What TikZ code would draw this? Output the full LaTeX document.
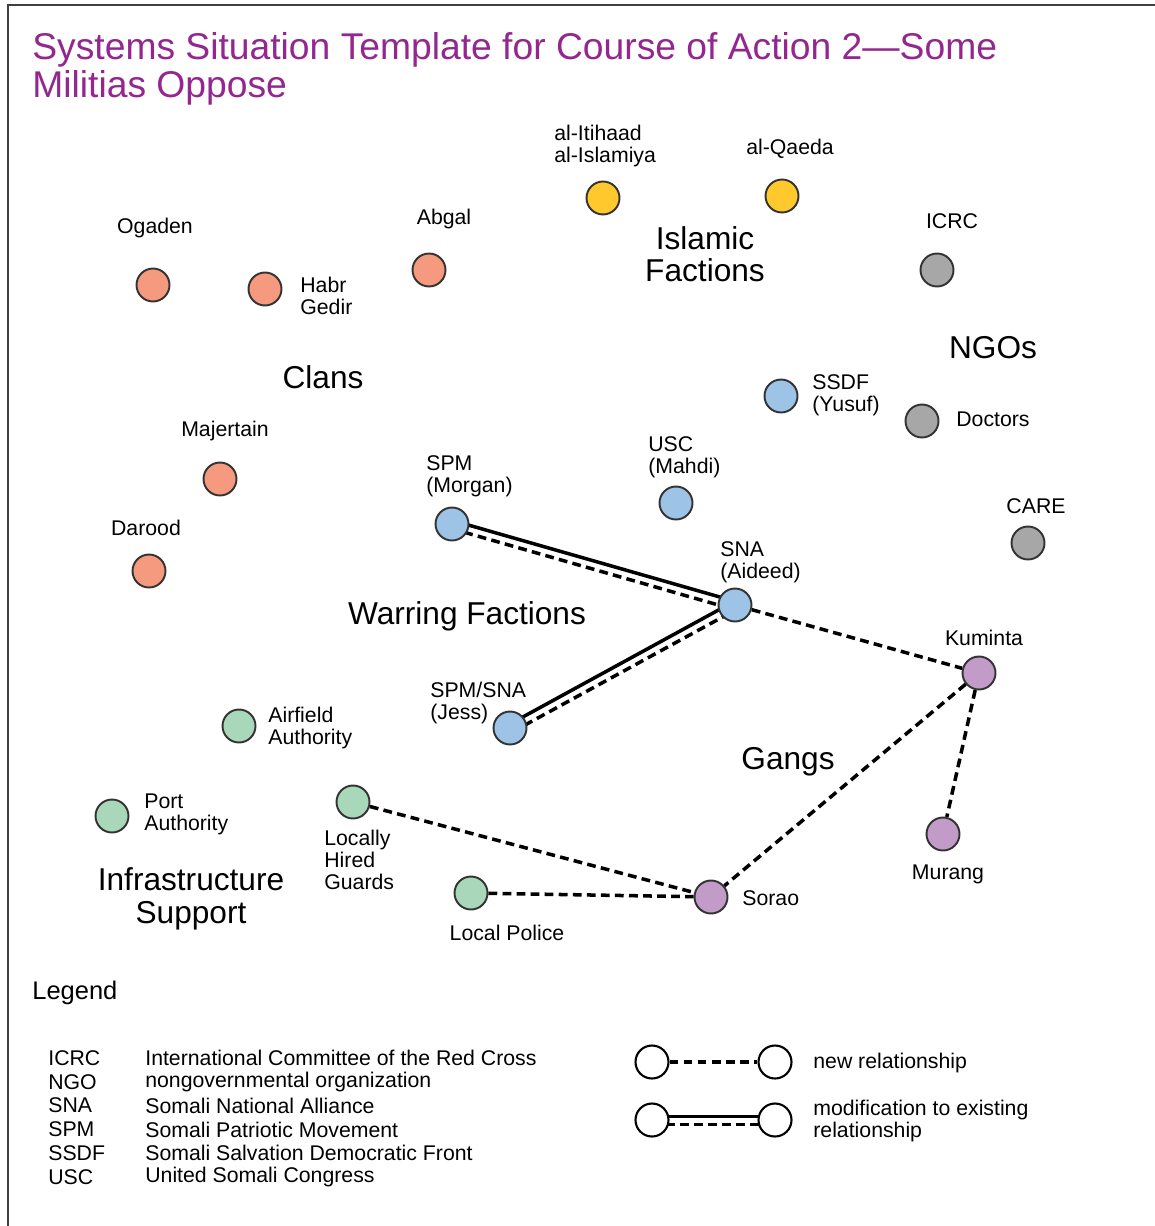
\documentclass[tikz,border=0pt]{standalone}
\usepackage{fontspec}
\setmainfont{Liberation Sans}
\usetikzlibrary{calc,backgrounds}

\definecolor{titlepurple}{RGB}{147,39,143}
\definecolor{edgegray}{RGB}{51,51,51}
\definecolor{clanred}{RGB}{245,154,126}
\definecolor{islamgold}{RGB}{255,200,45}
\definecolor{ngogray}{RGB}{167,167,167}
\definecolor{factionblue}{RGB}{157,195,230}
\definecolor{infragreen}{RGB}{168,216,185}
\definecolor{gangpurple}{RGB}{195,155,201}

\begin{document}
\begin{tikzpicture}[x=0.02cm,y=-0.02cm,
    actor/.style={circle,draw=edgegray,line width=1.1pt,minimum size=0.66cm,inner sep=0pt},
    keycircle/.style={circle,draw=black,line width=1.2pt,fill=white,minimum size=0.66cm,inner sep=0pt},
    lbl/.style={font=\fontsize{12.1}{12.6}\selectfont,align=left,inner sep=0pt},
    grp/.style={font=\fontsize{18}{18.5}\selectfont,align=center,inner sep=0pt},
    newrel/.style={line width=2pt,dash pattern=on 5pt off 3pt},
    oldrel/.style={line width=2pt}]
    \useasboundingbox (0,0) rectangle (1154,1226);
    % frame: only top and left edges show
    \draw[line width=1.7pt,draw=black!75] (8,1240) -- (8,5) -- (1170,5);

    % Title
    \node[anchor=west,align=left,inner sep=0pt,text=titlepurple,
          font=\fontsize{21.2}{22}\selectfont] (title) at (32,69)
        {Systems Situation Template for Course of Action 2---Some\\Militias Oppose};

    % Clans
    \node[actor,fill=clanred] (ogaden) at (153,285) {};
    \node[actor,fill=clanred] (habr) at (265,289) {};
    \node[actor,fill=clanred] (abgal) at (429,270) {};
    \node[actor,fill=clanred] (majertain) at (220,479) {};
    \node[actor,fill=clanred] (darood) at (149,571) {};
    % Islamic factions
    \node[actor,fill=islamgold] (itihaad) at (603,198) {};
    \node[actor,fill=islamgold] (qaeda) at (782,196) {};
    % NGOs
    \node[actor,fill=ngogray] (icrc) at (937,270) {};
    \node[actor,fill=ngogray] (doctors) at (922,421) {};
    \node[actor,fill=ngogray] (care) at (1028,543) {};
    % Warring factions
    \node[actor,fill=factionblue] (yusuf) at (781,396) {};
    \node[actor,fill=factionblue] (mahdi) at (676,503) {};
    \node[actor,fill=factionblue] (morgan) at (452,524) {};
    \node[actor,fill=factionblue] (aideed) at (735,605) {};
    \node[actor,fill=factionblue] (jess) at (510,728) {};
    % Infrastructure support
    \node[actor,fill=infragreen] (airfield) at (239,726) {};
    \node[actor,fill=infragreen] (port) at (112,816) {};
    \node[actor,fill=infragreen] (guards) at (353,802) {};
    \node[actor,fill=infragreen] (police) at (471,893) {};
    % Gangs
    \node[actor,fill=gangpurple] (kuminta) at (979,673) {};
    \node[actor,fill=gangpurple] (murang) at (943,834) {};
    \node[actor,fill=gangpurple] (sorao) at (711,897) {};

    % Actor labels
    \node[lbl] (ogadenlbl) at (155,228) {Ogaden};
    \node[lbl,anchor=west] (habrlbl) at (300,296) {Habr\\Gedir};
    \node[lbl] (abgallbl) at (444,219) {Abgal};
    \node[lbl] (majertainlbl) at (225,431) {Majertain};
    \node[lbl] (daroodlbl) at (146,528) {Darood};
    \node[lbl,anchor=west] (itihaadlbl) at (554,146) {al-Itihaad\\al-Islamiya};
    \node[lbl] (qaedalbl) at (790,149) {al-Qaeda};
    \node[lbl] (icrclbl) at (952,221) {ICRC};
    \node[lbl,anchor=west] (doctorslbl) at (956,419) {Doctors};
    \node[lbl] (carelbl) at (1036,506) {CARE};
    \node[lbl,anchor=west] (yusuflbl) at (812,395) {SSDF\\(Yusuf)};
    \node[lbl,anchor=west] (mahdilbl) at (648,457) {USC\\(Mahdi)};
    \node[lbl,anchor=west] (morganlbl) at (426,476) {SPM\\(Morgan)};
    \node[lbl,anchor=west] (aideedlbl) at (720,562) {SNA\\(Aideed)};
    \node[lbl,anchor=west] (jesslbl) at (430,703) {SPM/SNA\\(Jess)};
    \node[lbl,anchor=west] (airfieldlbl) at (268,728) {Airfield\\Authority};
    \node[lbl,anchor=west] (portlbl) at (144,814) {Port\\Authority};
    \node[lbl,anchor=west] (guardslbl) at (324,860) {Locally\\Hired\\Guards};
    \node[lbl] (policelbl) at (507,933) {Local Police};
    \node[lbl] (kumintalbl) at (984,638) {Kuminta};
    \node[lbl] (muranglbl) at (948,874) {Murang};
    \node[lbl,anchor=west] (soraolbl) at (742,898) {Sorao};

    % Group headings
    \node[grp] (clans) at (323,377) {Clans};
    \node[grp] (islamic) at (705,254) {Islamic\\Factions};
    \node[grp] (ngos) at (993,348) {NGOs};
    \node[grp] (warring) at (467,616) {Warring Factions};
    \node[grp] (gangs) at (788,762) {Gangs};
    \node[grp] (infra) at (191,899) {Infrastructure\\Support};

    % Legend
    \node[anchor=west,inner sep=0pt,font=\fontsize{14.5}{15}\selectfont] (legend) at (32,993) {Legend};
    \foreach \abbr/\full [count=\i from 0] in {ICRC/International Committee of the Red Cross,
        NGO/nongovernmental organization,SNA/Somali National Alliance,
        SPM/Somali Patriotic Movement,SSDF/Somali Salvation Democratic Front,
        USC/United Somali Congress}{
        \node[lbl,anchor=west] (abbr\i) at (48,1058+23.8*\i) {\abbr};
        \node[lbl,anchor=west] (full\i) at (145,1058+23.8*\i) {\full};
    }
    \node[keycircle] (keya) at (652,1062) {};
    \node[keycircle] (keyb) at (775,1062) {};
    \node[keycircle] (keyc) at (652,1120) {};
    \node[keycircle] (keyd) at (775,1120) {};
    \node[lbl,anchor=west] (keynew) at (813,1063) {new relationship};
    \node[lbl,anchor=west] (keymod) at (813,1121) {modification to existing\\relationship};

    % Relationships, kept under the circles
    \begin{scope}[on background layer]
        \draw[newrel] (aideed) -- (kuminta);
        \draw[newrel] (kuminta) -- (sorao);
        \draw[newrel] (kuminta) -- (murang);
        \draw[newrel] (guards) -- (sorao);
        \draw[newrel] (police) -- (sorao);
        \draw[newrel] (keya) -- (keyb);
        % modified ties: solid line with a dashed one beside it
        \foreach \a/\b in {morgan/aideed,jess/aideed,keyc/keyd}{
            \draw[oldrel] ($(\a)!2pt!90:(\b)$) -- ($(\b)!2pt!-90:(\a)$);
            \draw[newrel] ($(\a)!2.6pt!-90:(\b)$) -- ($(\b)!2.6pt!90:(\a)$);
        }
    \end{scope}
\end{tikzpicture}
\end{document}
